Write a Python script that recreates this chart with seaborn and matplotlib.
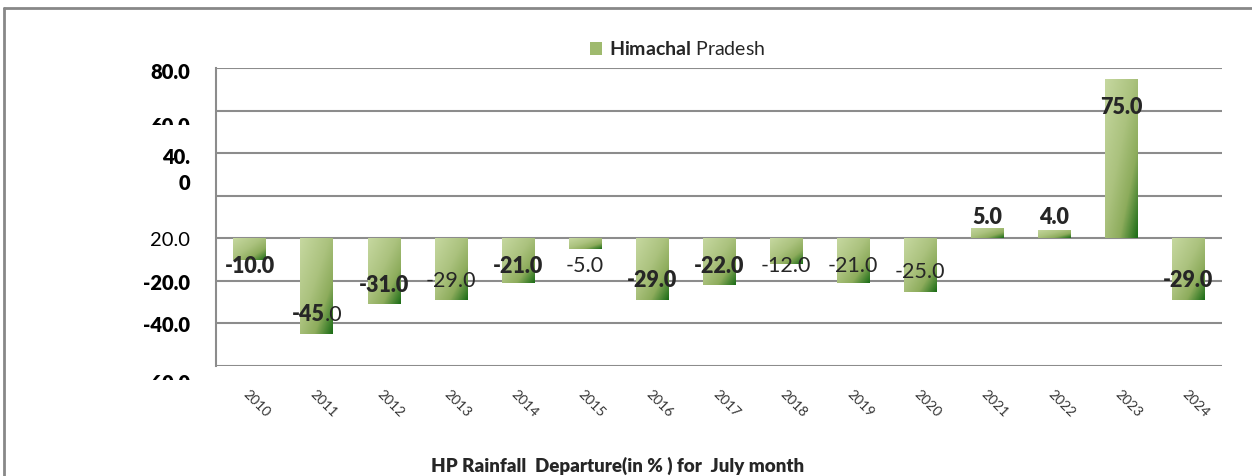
import numpy as np
import pandas as pd
import seaborn as sns
import matplotlib.pyplot as plt
from matplotlib.colors import LinearSegmentedColormap
from matplotlib.patches import Patch, Rectangle
from matplotlib.lines import Line2D

years = [str(y) for y in range(2010, 2025)]
departure = [-10, -45, -31, -29, -21, -5, -29, -22, -12, -21, -25, 5, 4, 75, -29]
# b = bold, n = normal, m = bold number with normal decimals
label_style = ["b", "m", "b", "n", "b", "n", "b", "b", "n", "n", "n", "b", "b", "b", "b"]

# the y-axis labels as they show up in the original (shifted / wrapped / cut)
ytick_text = ["80.0", "60.0", "40.\n0", "20.0", "-20.0", "-40.0", "-60.0"]
ytick_ypos = [78, 52.6, 32, -1, -21, -40.8, -68]
ytick_bold = [True, True, True, False, True, True, True]
# (from, to) data range hidden under white to mimic the cut-off labels
ytick_cut = [None, (42, 53.3), None, None, None, None, (-85, -66.6)]

sns.set_style("white")
plt.rcParams['font.family'] = ['Lato', 'DejaVu Sans']
plt.rcParams['mathtext.fontset'] = 'custom'
plt.rcParams['mathtext.bf'] = 'Lato:bold'
plt.rcParams['mathtext.rm'] = 'Lato'

BOLD = "heavy"

df = pd.DataFrame({"year": years, "departure": departure})

fig = plt.figure(figsize=(12.52, 4.76), dpi=100)
ax = fig.add_axes([0.1725, 0.231, 0.8035, 0.626])

sns.barplot(data=df, x="year", y="departure", color="#9fba6e", width=0.48,
            ax=ax, zorder=3)

# gradient fill, light top-left to dark green bottom-right
cmap = LinearSegmentedColormap.from_list(
    "hp", [(0, "#c6d8a0"), (0.45, "#abc27e"), (0.72, "#8dac5c"), (1, "#1b6c16")])
u, v = np.meshgrid(np.linspace(0, 1, 60), np.linspace(0, 1, 120))
grad = (u + v) / 2
for p in ax.patches:
    x0, y0 = p.get_x(), p.get_y()
    w, h = p.get_width(), p.get_height()
    ylo, yhi = min(y0, y0 + h), max(y0, y0 + h)
    im = ax.imshow(grad, cmap=cmap, extent=[x0, x0 + w, ylo, yhi],
                   origin="upper", aspect="auto", zorder=3)
    im.set_clip_path(p)
    p.set_facecolor("none")
    p.set_edgecolor("none")

ax.set_xlim(-0.5, len(years) - 0.5)
ax.set_ylim(-60, 80)
ax.set_yticks(range(-60, 81, 20))
ax.set_yticklabels([])
ax.tick_params(axis="y", length=0)
ax.grid(axis="y", color="#8c8c8c", linewidth=1.5, zorder=0)
ax.set_xlabel("")
ax.set_ylabel("")
for s in ["top", "right", "bottom"]:
    ax.spines[s].set_visible(False)
ax.spines["left"].set_color("#8c8c8c")
ax.spines["left"].set_linewidth(1.5)

# x tick labels
ax.tick_params(axis="x", length=0, pad=16)
plt.setp(ax.get_xticklabels(), rotation=-45, ha="left", rotation_mode="anchor",
         fontsize=10, color="#333333")

# y labels
ytr = ax.get_yaxis_transform()
for txt, yp, bold, cut in zip(ytick_text, ytick_ypos, ytick_bold, ytick_cut):
    ax.text(-0.026, yp, txt, transform=ytr, ha="right", va="center",
            fontsize=14.5, fontweight=BOLD if bold else "normal",
            color="black", linespacing=1.45, clip_on=False, zorder=1)
    if cut is not None:
        ax.add_patch(Rectangle((-0.15, cut[0]), 0.14, cut[1] - cut[0], transform=ytr,
                               facecolor="white", edgecolor="none", clip_on=False,
                               zorder=2))

# data labels
for i, (val, st) in enumerate(zip(departure, label_style)):
    ly = min(val + 9, -13) if val < 0 else max(val - 13.5, 10)
    lab = f"{val:.1f}"
    if st == "m":
        whole, dec = lab.split(".")
        ax.annotate(whole, (i, ly), xytext=(6, 0), textcoords="offset points",
                    ha="right", va="center", fontsize=15.5, fontweight=BOLD, zorder=5)
        ax.annotate("." + dec, (i, ly), xytext=(6, 0), textcoords="offset points",
                    ha="left", va="center", fontsize=15.5, zorder=5)
    else:
        ax.text(i, ly, lab, ha="center", va="center", fontsize=15.5,
                fontweight=BOLD if st == "b" else "normal", zorder=5)

# legend
handle = Patch(facecolor="#9fba6e", edgecolor="none")
ax.legend([handle], [r"$\mathbf{Himachal}$ Pradesh"], loc="lower center",
          bbox_to_anchor=(0.459, 1.0), frameon=False, fontsize=14,
          handlelength=0.6, handleheight=0.6, handletextpad=0.4, borderaxespad=0.1)

fig.text(0.493, 0.021, "HP Rainfall  Departure(in % ) for  July month",
         ha="center", va="center", fontsize=13.5, fontweight=BOLD)

# outer chart border (left and top)
fig.add_artist(Line2D([0.003, 0.003], [0, 0.983], transform=fig.transFigure,
                      color="#888888", linewidth=2))
fig.add_artist(Line2D([0.003, 1.0], [0.983, 0.983], transform=fig.transFigure,
                      color="#888888", linewidth=2))

fig.savefig("out.png", dpi=100)
